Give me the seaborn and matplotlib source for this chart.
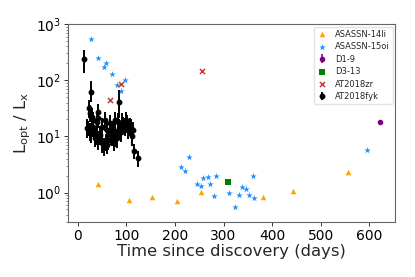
import matplotlib
matplotlib.use("Agg")
import matplotlib.pyplot as plt
import seaborn as sns
import pandas as pd

# ---------------- data ----------------
li14_t = [41, 106, 153, 204, 253, 381, 443, 556]
li14_y = [1.43, 0.73, 0.82, 0.72, 1.01, 0.84, 1.07, 2.32]

oi15_t = [27.5, 41, 53, 59, 70, 81.6, 89, 97,
          213, 220, 228, 245, 253, 257, 267, 273, 281, 285,
          311, 324, 332, 338, 346, 352, 361, 363, 596]
oi15_y = [532, 245, 170, 206, 129, 82, 65, 100,
          2.8, 2.45, 4.29, 1.44, 1.33, 1.84, 1.92, 1.39, 0.87, 1.94,
          0.99, 0.55, 0.9, 1.28, 1.15, 0.9, 1.94, 0.81, 5.77]

d19_t = [621]
d19_y = [17.8]
d19_err = [1.8]

d313_t = [310]
d313_y = [1.57]

zr_t = [66, 88.6, 256]
zr_y = [45, 84, 148]

fyk_t = [13.6, 20, 20.6, 23, 25, 25, 26.6, 28, 29, 32, 32, 35, 38, 39, 41,
         42.5, 42.5, 46, 49, 49, 53, 56, 58, 60, 60, 63, 66, 68, 70, 73,
         75, 77, 77, 80, 82, 84, 85.7, 88, 90.6, 94, 97.5, 99.5, 102, 104,
         107, 109, 111, 113, 116.6, 123.6]
fyk_y = [235, 14.3, 14, 31.6, 25.7, 12.2, 62, 11.7, 22.4, 19.6, 14.9, 9.5,
         10.6, 18.2, 27.5, 8.7, 21, 10.6, 7.6, 14.9, 6.6, 19.6, 8.0, 13, 7.1,
         8.7, 17.1, 10.5, 9.9, 13, 8.5, 19.6, 9.9, 9.3, 18.2, 14, 41, 12,
         18.2, 16, 15.3, 19.6, 17.1, 13, 15, 14, 10.2, 13, 5.5, 4.1]
fyk_lo = [98, 5, 4, 10, 8, 4, 21, 4, 7, 6, 5, 3, 3.5, 6, 9, 3, 7, 3.5, 2.5,
          5, 2.2, 7, 2.5, 4.5, 2.3, 3, 6, 3.5, 3.2, 4.5, 3, 7, 3.3, 3, 6, 5,
          20, 4, 6, 5, 5, 6, 5.5, 4, 5, 4.5, 3.5, 4, 1.5, 1.2]
fyk_hi = [104, 6, 5, 12, 10, 5, 36, 5, 9, 8, 6, 4, 4.5, 8, 11, 4, 9, 4.5, 3,
          6, 2.8, 8, 3, 5.5, 3, 4, 7, 4.5, 4, 5.5, 4, 8, 4, 4, 8, 6, 27, 5,
          8, 6, 6, 8, 7, 5, 6, 6, 4.5, 5, 1.8, 1.5]

x_ticks = [0, 100, 200, 300, 400, 500, 600]

# ---------------- plot ----------------
sns.set_style("ticks")
plt.rcParams['font.family'] = ['DejaVu Sans']

fig = plt.figure(figsize=(4.15, 2.77), dpi=100)
ax = fig.add_axes([0.164, 0.199, 0.788, 0.714])

sns.scatterplot(x=li14_t, y=li14_y, ax=ax, marker='^', color='orange',
                s=16, linewidth=0, label='ASASSN-14li', zorder=3)
sns.scatterplot(x=oi15_t, y=oi15_y, ax=ax, marker='*', color='dodgerblue',
                s=24, linewidth=0, label='ASASSN-15oi', zorder=3)
ax.errorbar(d19_t, d19_y, yerr=d19_err, fmt='o', color='purple',
            ms=3.0, elinewidth=1.2, capsize=0, label='D1-9', zorder=3)
sns.scatterplot(x=d313_t, y=d313_y, ax=ax, marker='s', color='green',
                s=16, linewidth=0, label='D3-13', zorder=3)
sns.scatterplot(x=zr_t, y=zr_y, ax=ax, marker='x', color='#c9403a',
                s=14, linewidth=1.1, label='AT2018zr', zorder=3)
ax.errorbar(fyk_t, fyk_y, yerr=[fyk_lo, fyk_hi], fmt='o', color='black',
            ms=3.2, elinewidth=1.4, capsize=0, label='AT2018fyk', zorder=4)

ax.set_yscale('log')
ax.set_ylim(0.3, 1000)
ax.set_xlim(-20, 653)
ax.set_xticks(x_ticks)

ax.set_xlabel('Time since discovery (days)', fontsize=11.8, labelpad=1)
ax.set_ylabel(r'$\mathrm{L_{opt}}$ / $\mathrm{L_{x}}$', fontsize=11.8, labelpad=2)
ax.tick_params(axis='both', which='major', labelsize=10, length=3, width=0.7,
               pad=2, colors='#333333', labelcolor='black')
ax.tick_params(axis='y', which='minor', length=1.8, width=0.5, colors='#555555')

for sp in ax.spines.values():
    sp.set_color('#666666')
    sp.set_linewidth(0.8)

handles, labels = ax.get_legend_handles_labels()
order = ['ASASSN-14li', 'ASASSN-15oi', 'D1-9', 'D3-13', 'AT2018zr', 'AT2018fyk']
hmap = dict(zip(labels, handles))
ax.legend([hmap[k] for k in order], order, loc='upper right', fontsize=6.0,
          frameon=True, framealpha=0.8, edgecolor='#dddddd',
          borderaxespad=0.3, handletextpad=0.8, labelspacing=0.42,
          borderpad=0.35, markerscale=1.0, handlelength=1.4)

fig.savefig('out.png', dpi=100)
